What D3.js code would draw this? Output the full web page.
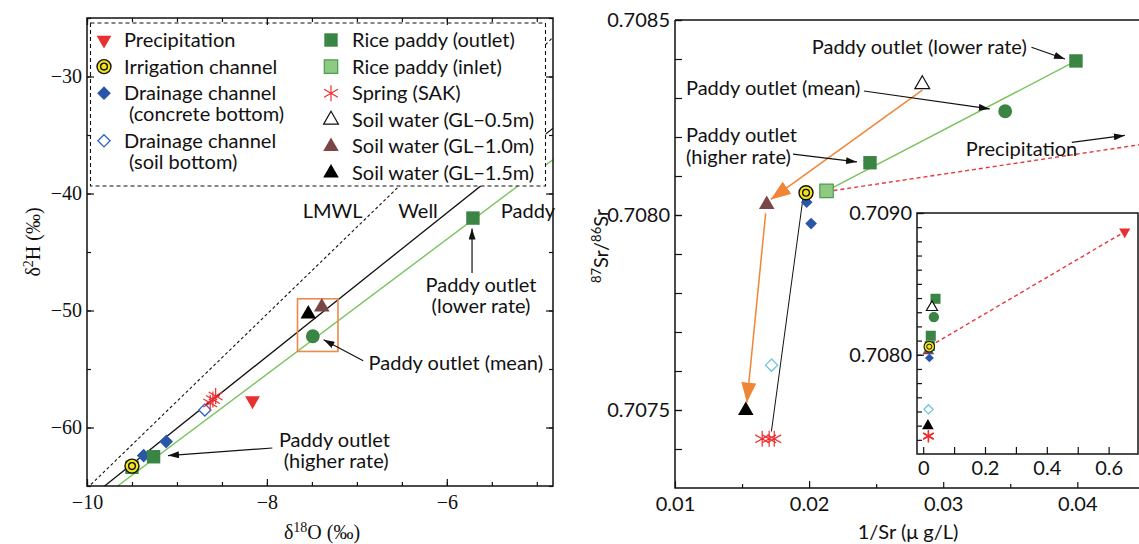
<!DOCTYPE html>
<html>
<head>
<meta charset="utf-8">
<script src="https://cdn.jsdelivr.net/npm/d3@7"></script>
<style>
  body { margin: 0; background: #fff; }
  text { font-family: Lato, 'Noto Sans', sans-serif; fill: #111; }
  .serif text, text.serif { font-family: 'Liberation Serif', 'DejaVu Serif', serif; }
</style>
</head>
<body>
<div id="canvas"></div>
<script>
// ---- left panel: d18O vs d2H
const isoPrecip = [[-8.16, -57.7]]
const isoSpring = [[-8.63, -57.9], [-8.6, -57.6], [-8.57, -57.3]]
const isoDrainSoil = [[-8.69, -58.5]]
const isoDrainConcrete = [[-9.12, -61.2], [-9.37, -62.4]]
const isoInlet = [[-9.5, -63.4]]
const isoIrrigation = [[-9.5, -63.3]]
const isoOutlet = [[-9.26, -62.5], [-5.71, -42.1]]
const isoOutletMean = [[-7.49, -52.2]]
const isoSoil10 = [[-7.39, -49.7]]
const isoSoil15 = [[-7.54, -50.3]]
const lmwl = [[-10, -65.2], [-4.8, -26.5]]
const wellLine = [[-10, -66.2], [-4.8, -34.3]]
const paddyLine = [[-9.66, -65], [-4.8, -37]]
const isoBox = [[-7.66, -49.0], [-7.21, -53.5]]

// ---- right panel: 1/Sr vs 87Sr/86Sr
const srPrecip = [[0.652, 0.708868]]
const srSpring = [[0.0165, 0.707426], [0.01702, 0.707426], [0.0174, 0.707426]]
const srDrainSoil = [[0.0172, 0.707615]]
const srDrainConcrete = [[0.01982, 0.708033], [0.02015, 0.707978]]
const srInlet = [[0.0213, 0.708062]]
const srIrrigation = [[0.01977, 0.708057]]
const srOutlet = [[0.02454, 0.708134], [0.0399, 0.708395]]
const srOutletMean = [[0.03462, 0.708266]]
const srSoil05 = [[0.02844, 0.708335]]
const srSoil10 = [[0.01684, 0.708027]]
const srSoil15 = [[0.01528, 0.707499]]
const srPaddyLine = [[0.0213, 0.708062], [0.0399, 0.708395]]
const srPrecipLine = [[0.0213, 0.70806], [0.0446, 0.70818]]
const srInsetPrecipLine = [[0.0213, 0.70806], [0.652, 0.708868]]
const srDrainLine = [[0.01957, 0.70805], [0.01719, 0.707445]]
const srArrow1 = [[0.02844, 0.70832], [0.01714, 0.70804]]
const srArrow2 = [[0.01676, 0.708004], [0.01536, 0.707519]]

const isoXTicks = [-10, -8, -6]
const isoYTicks = [-60, -50, -40, -30]
const srXTicks = [0.01, 0.02, 0.03, 0.04]
const srYTicks = [0.7075, 0.708, 0.7085]
const insetXTicks = [0, 0.2, 0.4, 0.6]
const insetYTicks = [0.708, 0.709]

const legendLeft = [
  ['precip', ['Precipitation']],
  ['irrigation', ['Irrigation channel']],
  ['drainConcrete', ['Drainage channel', '(concrete bottom)']],
  ['drainSoil', ['Drainage channel', '(soil bottom)']]
]
const legendRight = [
  ['outlet', 'Rice paddy (outlet)'],
  ['inlet', 'Rice paddy (inlet)'],
  ['spring', 'Spring (SAK)'],
  ['soil05', 'Soil water (GL\u22120.5m)'],
  ['soil10', 'Soil water (GL\u22121.0m)'],
  ['soil15', 'Soil water (GL\u22121.5m)']
]

const W = 1139, H = 544
const FS = 20
const svg = d3.select('#canvas').append('svg')
  .attr('width', W).attr('height', H)

const defs = svg.append('defs')
function marker (id, w, h, color) {
  defs.append('marker')
    .attr('id', id)
    .attr('viewBox', `0 0 ${w} ${h}`)
    .attr('refX', w).attr('refY', h / 2)
    .attr('markerWidth', w).attr('markerHeight', h)
    .attr('markerUnits', 'userSpaceOnUse')
    .attr('orient', 'auto')
    .append('path')
    .attr('d', `M0,0L${w},${h / 2}L0,${h}Z`)
    .attr('fill', color)
}
marker('arrowBlack', 11, 7, '#111')
marker('arrowOrange', 20, 15, '#f08535')

const kinds = {
  precip: {shape: d3.symbolTriangle, size: 95, fill: '#e8302e', stroke: 'none', rot: 180},
  irrigation: {circle: true},
  drainConcrete: {shape: d3.symbolDiamond2, size: 120, fill: '#2a56a8', stroke: 'none'},
  drainSoil: {shape: d3.symbolDiamond2, size: 95, fill: '#fff', stroke: '#2f63c0', sw: 1.3},
  drainSoilCyan: {shape: d3.symbolDiamond2, size: 95, fill: '#fff', stroke: '#6cc6dc', sw: 1.3},
  outlet: {shape: d3.symbolSquare, size: 180, fill: '#3a8444', stroke: 'none'},
  inlet: {shape: d3.symbolSquare, size: 180, fill: '#8dcb82', stroke: '#4e9a52', sw: 1.2},
  inletDark: {shape: d3.symbolSquare, size: 180, fill: '#3f8b47', stroke: 'none'},
  spring: {shape: d3.symbolAsterisk, size: 180, fill: 'none', stroke: '#ee2d2d', sw: 1.2},
  soil05: {shape: d3.symbolTriangle, size: 95, fill: '#fff', stroke: '#111', sw: 1.2},
  soil10: {shape: d3.symbolTriangle, size: 105, fill: '#7b4646', stroke: 'none'},
  soil15: {shape: d3.symbolTriangle, size: 105, fill: '#000', stroke: 'none'},
  mean: {shape: d3.symbolCircle, size: 150, fill: '#3a8444', stroke: 'none'}
}

function drawMarks (g, data, x, y, kind, k) {
  const s = kinds[kind]
  k = k || 1
  const sel = g.append('g').selectAll('g').data(data).enter().append('g')
    .attr('transform', d => `translate(${x(d[0])},${y(d[1])})`)
  if (s.circle) {
    sel.append('circle').attr('r', 7 * k).attr('fill', '#f2e31c').attr('stroke', '#111').attr('stroke-width', 1.4 * k)
    sel.append('circle').attr('r', 3.4 * k).attr('fill', 'none').attr('stroke', '#111').attr('stroke-width', 1.3 * k)
    return
  }
  sel.append('path')
    .attr('d', d3.symbol(s.shape, s.size * k * k))
    .attr('transform', s.rot ? `rotate(${s.rot})` : null)
    .attr('fill', s.fill)
    .attr('stroke', s.stroke)
    .attr('stroke-width', s.sw || 1)
}

function ticks (g, axis, tx, ty) {
  const a = g.append('g').attr('transform', `translate(${tx},${ty})`).call(axis)
  a.select('.domain').remove()
  a.selectAll('line').attr('stroke', '#111').attr('stroke-width', 1.2)
  return a
}

// ================= left panel
const lx = d3.scaleLinear().domain([-10, -4.82]).range([87, 553])
const ly = d3.scaleLinear().domain([-65, -25]).range([486, 18])
const left = svg.append('g')
defs.append('clipPath').attr('id', 'clipL').append('rect')
  .attr('x', 87).attr('y', 18).attr('width', 466).attr('height', 468)
const lplot = left.append('g').attr('clip-path', 'url(#clipL)')
const line = (sx, sy) => d3.line().x(d => sx(d[0])).y(d => sy(d[1]))

lplot.append('path').attr('d', line(lx, ly)(lmwl)).attr('fill', 'none')
  .attr('stroke', '#111').attr('stroke-width', 1.1).attr('stroke-dasharray', '3,2.5')
lplot.append('path').attr('d', line(lx, ly)(wellLine)).attr('fill', 'none')
  .attr('stroke', '#111').attr('stroke-width', 1.3)
lplot.append('path').attr('d', line(lx, ly)(paddyLine)).attr('fill', 'none')
  .attr('stroke', '#79c35c').attr('stroke-width', 1.4)

lplot.append('rect')
  .attr('x', lx(isoBox[0][0])).attr('y', ly(isoBox[0][1]))
  .attr('width', lx(isoBox[1][0]) - lx(isoBox[0][0]))
  .attr('height', ly(isoBox[1][1]) - ly(isoBox[0][1]))
  .attr('fill', 'none').attr('stroke', '#eb8a4c').attr('stroke-width', 1.6)

drawMarks(lplot, isoInlet, lx, ly, 'inletDark')
drawMarks(lplot, isoIrrigation, lx, ly, 'irrigation')
drawMarks(lplot, isoDrainConcrete, lx, ly, 'drainConcrete')
drawMarks(lplot, isoOutlet, lx, ly, 'outlet')
drawMarks(lplot, isoDrainSoil, lx, ly, 'drainSoil')
drawMarks(lplot, isoSpring, lx, ly, 'spring')
drawMarks(lplot, isoPrecip, lx, ly, 'precip')
drawMarks(lplot, isoSoil15, lx, ly, 'soil15')
drawMarks(lplot, isoSoil10, lx, ly, 'soil10')
drawMarks(lplot, isoOutletMean, lx, ly, 'mean')

// legend box
const lg = left.append('g')
lg.append('rect').attr('x', 90.5).attr('y', 23).attr('width', 455).attr('height', 163)
  .attr('fill', '#fff').attr('stroke', '#111').attr('stroke-width', 1.1).attr('stroke-dasharray', '4,3')
let row = 0
legendLeft.forEach(([k, lines]) => {
  const yy = 40 + row * 26.6
  drawMarks(lg, [[0, 0]], () => 104, () => yy, k)
  lines.forEach((t, i) => {
    lg.append('text').attr('x', i ? 129 : 124).attr('y', yy + i * 21).attr('dy', '0.35em')
      .attr('font-size', FS).text(t)
  })
  row += lines.length === 2 ? 1.79 : 1
})
legendRight.forEach(([k, t], i) => {
  const yy = 40 + i * 26.6
  drawMarks(lg, [[0, 0]], () => 331, () => yy, k)
  lg.append('text').attr('x', 352).attr('y', yy).attr('dy', '0.35em')
    .attr('font-size', FS).text(t)
})

// annotations
const ann = left.append('g').attr('font-size', FS)
ann.append('text').attr('x', lx(-7.27)).attr('y', ly(-41.5)).attr('dy', '0.35em').attr('text-anchor', 'middle').text('LMWL')
ann.append('text').attr('x', lx(-6.32)).attr('y', ly(-41.5)).attr('dy', '0.35em').attr('text-anchor', 'middle').text('Well')
ann.append('text').attr('x', lx(-5.4)).attr('y', ly(-41.5)).attr('dy', '0.35em').text('Paddy')
ann.append('text').attr('x', lx(-5.62)).attr('y', ly(-47.8)).attr('dy', '0.35em').attr('text-anchor', 'middle').text('Paddy outlet')
ann.append('text').attr('x', lx(-5.62)).attr('y', ly(-49.6)).attr('dy', '0.35em').attr('text-anchor', 'middle').text('(lower rate)')
ann.append('text').attr('x', lx(-6.87)).attr('y', ly(-54.5)).attr('dy', '0.35em').text('Paddy outlet (mean)')
ann.append('text').attr('x', lx(-7.25)).attr('y', ly(-61.1)).attr('dy', '0.35em').attr('text-anchor', 'middle').text('Paddy outlet')
ann.append('text').attr('x', lx(-7.23)).attr('y', ly(-62.9)).attr('dy', '0.35em').attr('text-anchor', 'middle').text('(higher rate)')
const arrow = (g, sx, sy, a, b, id) => g.append('line')
  .attr('x1', sx(a[0])).attr('y1', sy(a[1])).attr('x2', sx(b[0])).attr('y2', sy(b[1]))
  .attr('stroke', '#111').attr('stroke-width', 1.2).attr('marker-end', `url(#${id || 'arrowBlack'})`)
arrow(ann, lx, ly, [-5.72, -46.8], [-5.72, -43.0])
arrow(ann, lx, ly, [-6.93, -54.3], [-7.37, -52.5])
arrow(ann, lx, ly, [-7.94, -61.75], [-9.1, -62.4])

// frame + ticks
left.append('rect').attr('x', 87).attr('y', 18).attr('width', 466).attr('height', 468)
  .attr('fill', 'none').attr('stroke', '#111').attr('stroke-width', 1.5)
const lMinorX = d3.range(-10, -4.8, 0.5)
const lMinorY = d3.range(-65, -24, 5)
const lxb = ticks(left, d3.axisBottom(lx).tickValues(isoXTicks).tickSize(-7).tickPadding(9).tickFormat(d3.format('d')), 0, 486)
lxb.attr('class', 'serif').selectAll('text').attr('font-size', 20)
ticks(left, d3.axisBottom(lx).tickValues(lMinorX).tickSize(-4).tickFormat(''), 0, 486)
ticks(left, d3.axisTop(lx).tickValues(isoXTicks).tickSize(-7).tickFormat(''), 0, 18)
ticks(left, d3.axisTop(lx).tickValues(lMinorX).tickSize(-4).tickFormat(''), 0, 18)
const lyl = ticks(left, d3.axisLeft(ly).tickValues(isoYTicks).tickSize(-7).tickPadding(5).tickFormat(d3.format('d')), 87, 0)
lyl.attr('class', 'serif').selectAll('text').attr('font-size', 20)
ticks(left, d3.axisLeft(ly).tickValues(lMinorY).tickSize(-4).tickFormat(''), 87, 0)
ticks(left, d3.axisRight(ly).tickValues(isoYTicks).tickSize(-7).tickFormat(''), 553, 0)
ticks(left, d3.axisRight(ly).tickValues(lMinorY).tickSize(-4).tickFormat(''), 553, 0)

left.append('text').attr('class', 'serif').attr('font-size', 20)
  .attr('transform', 'translate(40,242) rotate(-90)').attr('text-anchor', 'middle')
  .html('\u03b4<tspan dy="-7" font-size="14">2</tspan><tspan dy="7">H (\u2030)</tspan>')
left.append('text').attr('class', 'serif').attr('font-size', 20)
  .attr('x', 322).attr('y', 539).attr('text-anchor', 'middle')
  .html('\u03b4<tspan dy="-7" font-size="14">18</tspan><tspan dy="7">O (\u2030)</tspan>')

// ================= right panel
const rx = d3.scaleLinear().domain([0.01, 0.0446]).range([675, 1139])
const ry = d3.scaleLinear().domain([0.7073, 0.7085]).range([488, 20])
const right = svg.append('g')
defs.append('clipPath').attr('id', 'clipR').append('rect')
  .attr('x', 675).attr('y', 20).attr('width', 464).attr('height', 468)
const rplot = right.append('g').attr('clip-path', 'url(#clipR)')

rplot.append('path').attr('d', line(rx, ry)(srPrecipLine)).attr('fill', 'none')
  .attr('stroke', '#e8393a').attr('stroke-width', 1.4).attr('stroke-dasharray', '4,3')
rplot.append('path').attr('d', line(rx, ry)(srPaddyLine)).attr('fill', 'none')
  .attr('stroke', '#79c35c').attr('stroke-width', 1.4)
rplot.append('path').attr('d', line(rx, ry)(srDrainLine)).attr('fill', 'none')
  .attr('stroke', '#111').attr('stroke-width', 1)
arrow(rplot, rx, ry, srArrow1[0], srArrow1[1], 'arrowOrange').attr('stroke', '#f08535').attr('stroke-width', 1.5)
arrow(rplot, rx, ry, srArrow2[0], srArrow2[1], 'arrowOrange').attr('stroke', '#f08535').attr('stroke-width', 1.5)

drawMarks(rplot, srSpring, rx, ry, 'spring')
drawMarks(rplot, srSoil15, rx, ry, 'soil15')
drawMarks(rplot, srDrainSoil, rx, ry, 'drainSoilCyan')
drawMarks(rplot, srSoil10, rx, ry, 'soil10')
drawMarks(rplot, srDrainConcrete, rx, ry, 'drainConcrete', 0.85)
drawMarks(rplot, srIrrigation, rx, ry, 'irrigation')
drawMarks(rplot, srInlet, rx, ry, 'inlet')
drawMarks(rplot, srOutlet, rx, ry, 'outlet')
drawMarks(rplot, srOutletMean, rx, ry, 'mean')
drawMarks(rplot, srSoil05, rx, ry, 'soil05')

const rann = right.append('g').attr('font-size', FS)
rann.append('text').attr('x', rx(0.0202)).attr('y', ry(0.70843)).attr('dy', '0.35em').text('Paddy outlet (lower rate)')
rann.append('text').attr('x', rx(0.01082)).attr('y', ry(0.708326)).attr('dy', '0.35em').text('Paddy outlet (mean)')
rann.append('text').attr('x', rx(0.01082)).attr('y', ry(0.708204)).attr('dy', '0.35em').text('Paddy outlet')
rann.append('text').attr('x', rx(0.01082)).attr('y', ry(0.70815)).attr('dy', '0.35em').text('(higher rate)')
rann.append('text').attr('x', rx(0.03169)).attr('y', ry(0.708169)).attr('dy', '0.35em').text('Precipitation')
arrow(rann, rx, ry, [0.03658, 0.70843], [0.03908, 0.7084])
arrow(rann, rx, ry, [0.02409, 0.708318], [0.03347, 0.708272])
arrow(rann, rx, ry, [0.0188, 0.708156], [0.02357, 0.708136])
arrow(rann, rx, ry, [0.03959, 0.708186], [0.04354, 0.708204])

right.append('path').attr('d', 'M675,20H1139M675,20V488H1139')
  .attr('fill', 'none').attr('stroke', '#111').attr('stroke-width', 1.5)
const rMinorY = d3.range(0.7074, 0.70851, 0.0001)
const rMinorX = d3.range(0.015, 0.045, 0.01)
const ryl = ticks(right, d3.axisLeft(ry).tickValues(srYTicks).tickSize(-7).tickPadding(5).tickFormat(d3.format('.4f')), 675, 0)
ryl.selectAll('text').attr('font-size', FS).attr('font-family', 'Lato')
ticks(right, d3.axisLeft(ry).tickValues(rMinorY).tickSize(-7).tickFormat(''), 675, 0)
const rxb = ticks(right, d3.axisBottom(rx).tickValues(srXTicks).tickSize(-7).tickPadding(9).tickFormat(d3.format('.2f')), 0, 488)
rxb.selectAll('text').attr('font-size', FS).attr('font-family', 'Lato')
ticks(right, d3.axisBottom(rx).tickValues(rMinorX).tickSize(-4).tickFormat(''), 0, 488)

right.append('text').attr('font-size', FS)
  .attr('transform', 'translate(608,246) rotate(-90)').attr('text-anchor', 'middle')
  .html('<tspan dy="-7" font-size="13">87</tspan><tspan dy="7">Sr/</tspan><tspan dy="-7" font-size="13">86</tspan><tspan dy="7">Sr</tspan>')
right.append('text').attr('font-size', FS)
  .attr('x', 908).attr('y', 539).attr('text-anchor', 'middle').text('1/Sr (\u03bc g/L)')

// ================= inset
const ix = d3.scaleLinear().domain([-0.02, 0.695]).range([917, 1138])
const iy = d3.scaleLinear().domain([0.7073, 0.709]).range([454, 213])
const inset = svg.append('g')
inset.append('rect').attr('x', 850).attr('y', 200).attr('width', 289).attr('height', 282).attr('fill', '#fff')
defs.append('clipPath').attr('id', 'clipI').append('rect')
  .attr('x', 917).attr('y', 213).attr('width', 221).attr('height', 241)
const iplot = inset.append('g').attr('clip-path', 'url(#clipI)')
iplot.append('path').attr('d', line(ix, iy)(srInsetPrecipLine)).attr('fill', 'none')
  .attr('stroke', '#e8393a').attr('stroke-width', 1.4).attr('stroke-dasharray', '4,3')
const k = 0.75
drawMarks(iplot, srSpring, ix, iy, 'spring', k)
drawMarks(iplot, srSoil15, ix, iy, 'soil15', k)
drawMarks(iplot, srDrainSoil, ix, iy, 'drainSoilCyan', k)
drawMarks(iplot, srSoil10, ix, iy, 'soil10', k)
drawMarks(iplot, srDrainConcrete, ix, iy, 'drainConcrete', 0.65)
drawMarks(iplot, srInlet, ix, iy, 'outlet', k)
drawMarks(iplot, srOutlet, ix, iy, 'outlet', k)
drawMarks(iplot, srIrrigation, ix, iy, 'irrigation', k)
drawMarks(iplot, srOutletMean, ix, iy, 'mean', k)
drawMarks(iplot, srSoil05, ix, iy, 'soil05', k)
drawMarks(iplot, srPrecip, ix, iy, 'precip', k)

inset.append('rect').attr('x', 917).attr('y', 213).attr('width', 221).attr('height', 241)
  .attr('fill', 'none').attr('stroke', '#222').attr('stroke-width', 1.6)
const iyl = ticks(inset, d3.axisLeft(iy).tickValues(insetYTicks).tickSize(-7).tickPadding(5).tickFormat(d3.format('.4f')), 917, 0)
iyl.selectAll('text').attr('font-size', FS).attr('font-family', 'Lato')
ticks(inset, d3.axisLeft(iy).tickValues(d3.range(0.7074, 0.70901, 0.0001)).tickSize(-5).tickFormat(''), 917, 0)
const ixb = ticks(inset, d3.axisBottom(ix).tickValues(d3.range(0, 0.69, 0.1)).tickSize(-7)
  .tickFormat(d => insetXTicks.some(t => Math.abs(t - d) < 1e-6) ? (d < 1e-6 ? '0' : d3.format('.1f')(d)) : ''), 0, 454)
ixb.selectAll('text').attr('font-size', FS).attr('font-family', 'Lato').attr('dy', '0.9em')
</script>
</body>
</html>
